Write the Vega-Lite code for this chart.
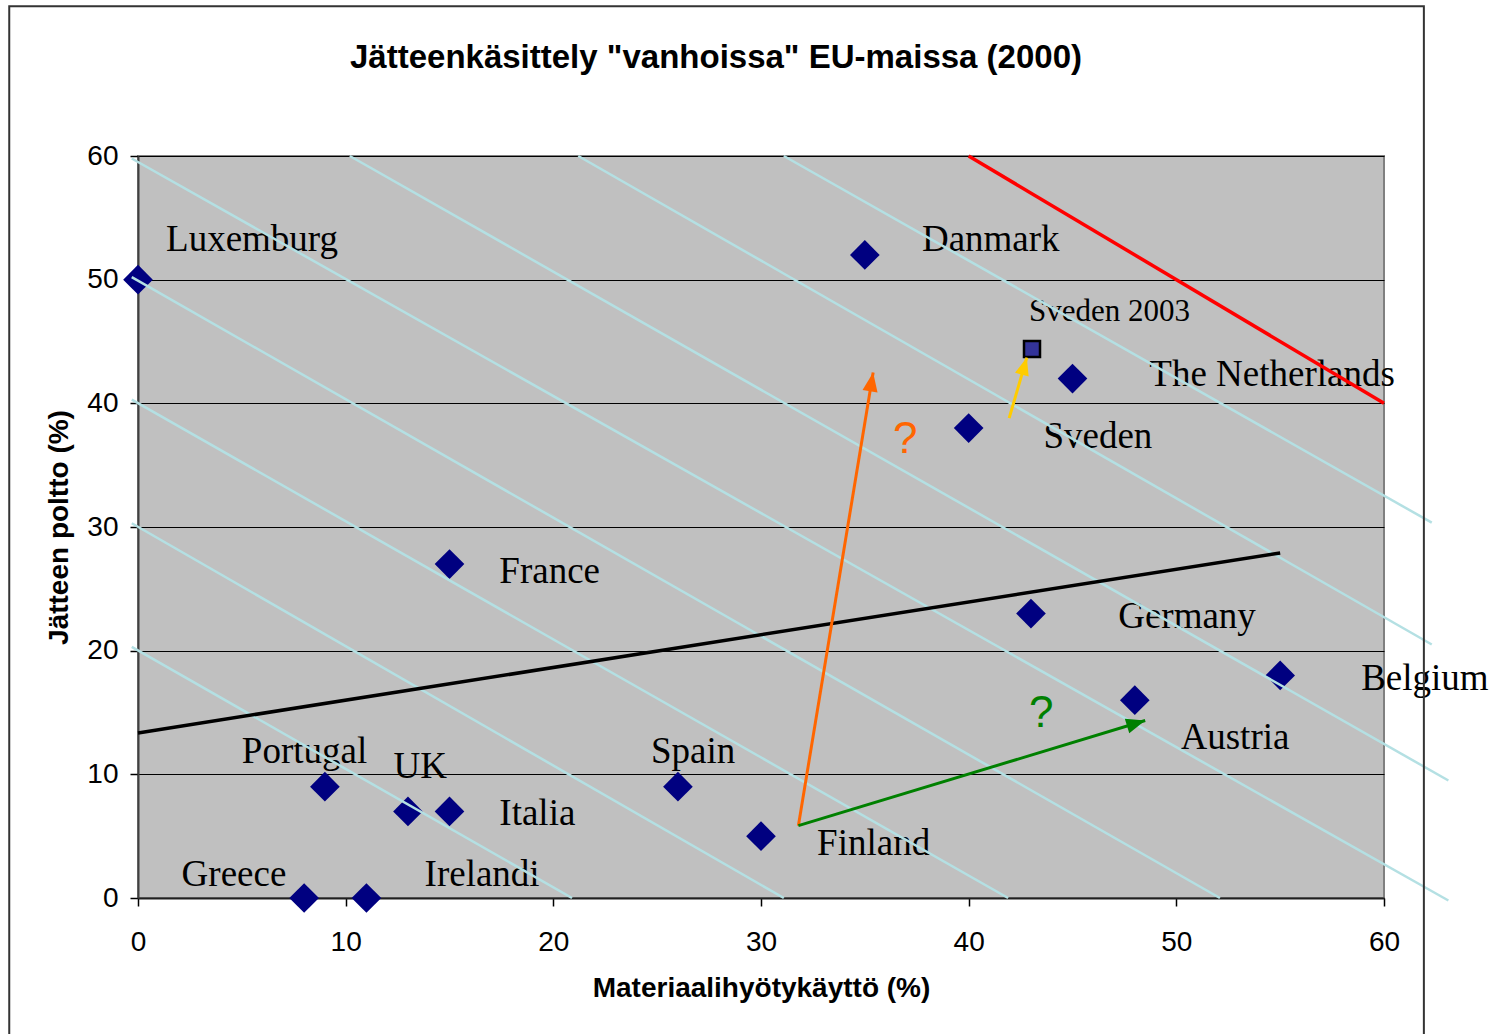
{
  "$schema": "https://vega.github.io/schema/vega-lite/v6.json",
  "autosize": "none",
  "width": 1246,
  "height": 742,
  "padding": {"left": 138, "top": 156, "right": 108, "bottom": 136},
  "background": "white",
  "title": {
    "text": "Jätteenkäsittely \"vanhoissa\" EU-maissa (2000)",
    "font": "Liberation Sans",
    "fontSize": 33,
    "fontWeight": "bold",
    "color": "#000000",
    "anchor": "middle",
    "frame": "group",
    "dx": -45,
    "offset": -70
  },
  "config": {
    "view": {"fill": "#C0C0C0", "stroke": "#808080", "strokeWidth": 2},
    "axisX": {
      "grid": false,
      "tickSize": 8, "tickColor": "#000000", "tickWidth": 1.5,
      "domainColor": "#202020", "domainWidth": 2,
      "labelFont": "Liberation Sans", "labelFontSize": 28, "labelColor": "#000000",
      "labelPadding": 22, "labelFlush": false, "labelOverlap": false,
      "titleFont": "Liberation Sans", "titleFontSize": 28, "titleFontWeight": "bold",
      "titleColor": "#000000", "titlePadding": 18
    },
    "axisY": {
      "grid": true, "gridColor": "#000000", "gridWidth": 1,
      "tickSize": 8, "tickColor": "#000000", "tickWidth": 1.5,
      "domainColor": "#404040", "domainWidth": 2,
      "labelFont": "Liberation Sans", "labelFontSize": 28, "labelColor": "#000000",
      "labelPadding": 12, "labelFlush": false, "labelOverlap": false,
      "titleFont": "Liberation Sans", "titleFontSize": 28, "titleFontWeight": "bold",
      "titleColor": "#000000", "titlePadding": 13
    }
  },
  "datasets": {
    "points": [
      {"country": "Luxemburg", "kind": "diamond", "x": 0, "y": 50, "lx": 1.35, "ly": 53.2},
      {"country": "Danmark", "kind": "diamond", "x": 35, "y": 52, "lx": 37.75, "ly": 53.2},
      {"country": "Sveden 2003", "kind": "square", "x": 43.05, "y": 44.4, "lx": 42.9, "ly": 47.4},
      {"country": "The Netherlands", "kind": "diamond", "x": 45, "y": 42, "lx": 48.7, "ly": 42.3},
      {"country": "Sveden", "kind": "diamond", "x": 40, "y": 38, "lx": 43.6, "ly": 37.3},
      {"country": "France", "kind": "diamond", "x": 15, "y": 27, "lx": 17.4, "ly": 26.4},
      {"country": "Germany", "kind": "diamond", "x": 43, "y": 23, "lx": 47.2, "ly": 22.7},
      {"country": "Belgium", "kind": "diamond", "x": 55, "y": 18, "lx": 58.9, "ly": 17.7},
      {"country": "Austria", "kind": "diamond", "x": 48, "y": 16, "lx": 50.2, "ly": 12.9},
      {"country": "Portugal", "kind": "diamond", "x": 9, "y": 9, "lx": 5.0, "ly": 11.8},
      {"country": "UK", "kind": "diamond", "x": 13, "y": 7, "lx": 12.3, "ly": 10.6},
      {"country": "Italia", "kind": "diamond", "x": 15, "y": 7, "lx": 17.4, "ly": 6.8},
      {"country": "Spain", "kind": "diamond", "x": 26, "y": 9, "lx": 24.7, "ly": 11.8},
      {"country": "Finland", "kind": "diamond", "x": 30, "y": 5, "lx": 32.7, "ly": 4.4},
      {"country": "Greece", "kind": "diamond", "x": 8, "y": 0, "lx": 2.1, "ly": 1.9},
      {"country": "Irelandi", "kind": "diamond", "x": 11, "y": 0, "lx": 13.8, "ly": 1.9}
    ],
    "isolines": [
      {"id": "c20", "x": -0.3, "y": 20.3}, {"id": "c20", "x": 20.9, "y": 0},
      {"id": "c30", "x": -0.3, "y": 30.3}, {"id": "c30", "x": 31.1, "y": 0},
      {"id": "c40", "x": -0.3, "y": 40.3}, {"id": "c40", "x": 41.9, "y": 0},
      {"id": "c50", "x": -0.3, "y": 50.2}, {"id": "c50", "x": 52.1, "y": 0},
      {"id": "c60", "x": -0.3, "y": 59.8}, {"id": "c60", "x": 63.1, "y": -0.2},
      {"id": "c70", "x": 10.2, "y": 60}, {"id": "c70", "x": 63.1, "y": 9.5},
      {"id": "c80", "x": 21.2, "y": 60}, {"id": "c80", "x": 62.3, "y": 20.5},
      {"id": "c90", "x": 31.1, "y": 60}, {"id": "c90", "x": 62.3, "y": 30.35}
    ],
    "redline": [{"x": 40, "y": 60}, {"x": 60, "y": 40}],
    "trend": [{"x": 0, "y": 13.35}, {"x": 55, "y": 27.9}],
    "arrows": [
      {"arrow": "orange", "x": 31.8, "y": 5.85, "x2": 35.4, "y2": 42.5},
      {"arrow": "green", "x": 31.8, "y": 5.85, "x2": 48.5, "y2": 14.35},
      {"arrow": "yellow", "x": 41.95, "y": 38.8, "x2": 42.8, "y2": 43.7}
    ],
    "questions": [
      {"arrow": "orange", "x": 36.95, "y": 37.0, "text": "?"},
      {"arrow": "green", "x": 43.5, "y": 14.9, "text": "?"}
    ],
    "frame": [{"x": -6.2, "x2": 61.92, "y": 72.1, "y2": -12}]
  },
  "layer": [
    {
      "data": {"name": "points"},
      "transform": [{"filter": "datum.kind === 'diamond'"}],
      "mark": {"type": "point", "shape": "diamond", "filled": true, "size": 880, "color": "#000080", "opacity": 1, "clip": false},
      "encoding": {
        "x": {
          "field": "x", "type": "quantitative", "title": "Materiaalihyötykäyttö (%)",
          "scale": {"domain": [0, 60], "nice": false},
          "axis": {"values": [0, 10, 20, 30, 40, 50, 60]}
        },
        "y": {
          "field": "y", "type": "quantitative", "title": "Jätteen poltto (%)",
          "scale": {"domain": [0, 60], "nice": false},
          "axis": {"values": [0, 10, 20, 30, 40, 50, 60]}
        }
      }
    },
    {
      "data": {"name": "points"},
      "transform": [{"filter": "datum.kind === 'square'"}],
      "mark": {"type": "point", "shape": "square", "filled": true, "size": 256, "fill": "#333399", "stroke": "#000000", "strokeWidth": 2.5, "opacity": 1, "clip": false},
      "encoding": {
        "x": {"field": "x", "type": "quantitative", "title": "Materiaalihyötykäyttö (%)", "scale": {"domain": [0, 60], "nice": false}},
        "y": {"field": "y", "type": "quantitative", "title": "Jätteen poltto (%)", "scale": {"domain": [0, 60], "nice": false}}
      }
    },
    {
      "data": {"name": "points"},
      "transform": [{"filter": "datum.kind === 'diamond'"}],
      "mark": {"type": "text", "font": "Liberation Serif", "fontSize": 37, "align": "left", "baseline": "middle", "color": "#000000", "clip": false},
      "encoding": {
        "x": {"field": "lx", "type": "quantitative", "title": "Materiaalihyötykäyttö (%)", "scale": {"domain": [0, 60], "nice": false}},
        "y": {"field": "ly", "type": "quantitative", "title": "Jätteen poltto (%)", "scale": {"domain": [0, 60], "nice": false}},
        "text": {"field": "country"}
      }
    },
    {
      "data": {"name": "points"},
      "transform": [{"filter": "datum.kind === 'square'"}],
      "mark": {"type": "text", "font": "Liberation Serif", "fontSize": 31, "align": "left", "baseline": "middle", "color": "#000000", "clip": false},
      "encoding": {
        "x": {"field": "lx", "type": "quantitative", "title": "Materiaalihyötykäyttö (%)", "scale": {"domain": [0, 60], "nice": false}},
        "y": {"field": "ly", "type": "quantitative", "title": "Jätteen poltto (%)", "scale": {"domain": [0, 60], "nice": false}},
        "text": {"field": "country"}
      }
    },
    {
      "data": {"name": "isolines"},
      "mark": {"type": "line", "color": "#B4E0E3", "strokeWidth": 2.5, "clip": false},
      "encoding": {
        "x": {"field": "x", "type": "quantitative", "title": "Materiaalihyötykäyttö (%)", "scale": {"domain": [0, 60], "nice": false}},
        "y": {"field": "y", "type": "quantitative", "title": "Jätteen poltto (%)", "scale": {"domain": [0, 60], "nice": false}},
        "detail": {"field": "id"}
      }
    },
    {
      "data": {"name": "redline"},
      "mark": {"type": "line", "color": "#FF0000", "strokeWidth": 3.5, "clip": false},
      "encoding": {
        "x": {"field": "x", "type": "quantitative", "title": "Materiaalihyötykäyttö (%)", "scale": {"domain": [0, 60], "nice": false}},
        "y": {"field": "y", "type": "quantitative", "title": "Jätteen poltto (%)", "scale": {"domain": [0, 60], "nice": false}}
      }
    },
    {
      "data": {"name": "trend"},
      "mark": {"type": "line", "color": "#000000", "strokeWidth": 3.5, "clip": false},
      "encoding": {
        "x": {"field": "x", "type": "quantitative", "title": "Materiaalihyötykäyttö (%)", "scale": {"domain": [0, 60], "nice": false}},
        "y": {"field": "y", "type": "quantitative", "title": "Jätteen poltto (%)", "scale": {"domain": [0, 60], "nice": false}}
      }
    },
    {
      "data": {"name": "arrows"},
      "mark": {"type": "rule", "strokeWidth": 3, "clip": false},
      "encoding": {
        "x": {"field": "x", "type": "quantitative", "title": "Materiaalihyötykäyttö (%)", "scale": {"domain": [0, 60], "nice": false}},
        "y": {"field": "y", "type": "quantitative", "title": "Jätteen poltto (%)", "scale": {"domain": [0, 60], "nice": false}},
        "x2": {"field": "x2"},
        "y2": {"field": "y2"},
        "color": {"field": "arrow", "type": "nominal", "scale": {"domain": ["orange", "green", "yellow"], "range": ["#FF6600", "#008000", "#FFCC00"]}, "legend": null}
      }
    },
    {
      "data": {"name": "arrows"},
      "transform": [{"filter": "datum.arrow === 'orange'"}],
      "mark": {"type": "point", "shape": "M0,0L-0.6,1.5L0.6,1.5Z", "filled": true, "size": 640, "angle": 9.4, "opacity": 1, "clip": false},
      "encoding": {
        "x": {"field": "x2", "type": "quantitative", "title": "Materiaalihyötykäyttö (%)", "scale": {"domain": [0, 60], "nice": false}},
        "y": {"field": "y2", "type": "quantitative", "title": "Jätteen poltto (%)", "scale": {"domain": [0, 60], "nice": false}},
        "color": {"field": "arrow", "type": "nominal", "legend": null}
      }
    },
    {
      "data": {"name": "arrows"},
      "transform": [{"filter": "datum.arrow === 'green'"}],
      "mark": {"type": "point", "shape": "M0,0L-0.6,1.5L0.6,1.5Z", "filled": true, "size": 640, "angle": 73.1, "opacity": 1, "clip": false},
      "encoding": {
        "x": {"field": "x2", "type": "quantitative", "title": "Materiaalihyötykäyttö (%)", "scale": {"domain": [0, 60], "nice": false}},
        "y": {"field": "y2", "type": "quantitative", "title": "Jätteen poltto (%)", "scale": {"domain": [0, 60], "nice": false}},
        "color": {"field": "arrow", "type": "nominal", "legend": null}
      }
    },
    {
      "data": {"name": "arrows"},
      "transform": [{"filter": "datum.arrow === 'yellow'"}],
      "mark": {"type": "point", "shape": "M0,0L-0.6,1.5L0.6,1.5Z", "filled": true, "size": 560, "angle": 16.2, "opacity": 1, "clip": false},
      "encoding": {
        "x": {"field": "x2", "type": "quantitative", "title": "Materiaalihyötykäyttö (%)", "scale": {"domain": [0, 60], "nice": false}},
        "y": {"field": "y2", "type": "quantitative", "title": "Jätteen poltto (%)", "scale": {"domain": [0, 60], "nice": false}},
        "color": {"field": "arrow", "type": "nominal", "legend": null}
      }
    },
    {
      "data": {"name": "questions"},
      "mark": {"type": "text", "font": "Liberation Sans", "fontSize": 44, "align": "center", "baseline": "middle", "clip": false},
      "encoding": {
        "x": {"field": "x", "type": "quantitative", "title": "Materiaalihyötykäyttö (%)", "scale": {"domain": [0, 60], "nice": false}},
        "y": {"field": "y", "type": "quantitative", "title": "Jätteen poltto (%)", "scale": {"domain": [0, 60], "nice": false}},
        "text": {"field": "text"},
        "color": {"field": "arrow", "type": "nominal", "legend": null}
      }
    },
    {
      "data": {"name": "frame"},
      "mark": {"type": "rect", "fill": "transparent", "stroke": "#333333", "strokeWidth": 2, "clip": false},
      "encoding": {
        "x": {"field": "x", "type": "quantitative", "title": "Materiaalihyötykäyttö (%)", "scale": {"domain": [0, 60], "nice": false}},
        "x2": {"field": "x2"},
        "y": {"field": "y", "type": "quantitative", "title": "Jätteen poltto (%)", "scale": {"domain": [0, 60], "nice": false}},
        "y2": {"field": "y2"}
      }
    }
  ]
}
